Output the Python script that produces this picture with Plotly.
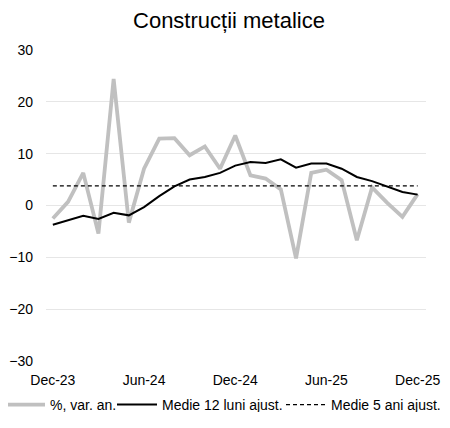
import plotly.graph_objects as go

months = ["Dec-23", "Jan-24", "Feb-24", "Mar-24", "Apr-24", "May-24", "Jun-24",
          "Jul-24", "Aug-24", "Sep-24", "Oct-24", "Nov-24", "Dec-24",
          "Jan-25", "Feb-25", "Mar-25", "Apr-25", "May-25", "Jun-25",
          "Jul-25", "Aug-25", "Sep-25", "Oct-25", "Nov-25", "Dec-25"]
var_an = [-2.5, 0.7, 6.3, -5.4, 24.4, -3.3, 7.1, 12.9, 13.0, 9.7, 11.4, 7.1, 13.5,
          5.8, 5.2, 3.1, -10.2, 6.3, 6.9, 4.9, -6.7, 3.5, 0.5, -2.2, 2.2]
medie_12 = [-3.7, -2.9, -2.0, -2.6, -1.4, -1.9, -0.3, 1.8, 3.7, 5.0, 5.5, 6.3, 7.7,
            8.4, 8.2, 8.9, 7.3, 8.1, 8.1, 7.1, 5.5, 4.7, 3.6, 2.6, 2.1]
medie_5_ani = 3.8
tick_labels = ["Dec-23", "Jun-24", "Dec-24", "Jun-25", "Dec-25"]
y_ticks = [-30, -20, -10, 0, 10, 20, 30]

idx = list(range(len(months)))
tick_idx = [months.index(t) for t in tick_labels]

fig = go.Figure()
fig.add_trace(go.Scatter(x=idx, y=var_an, mode="lines", name="%, var. an.",
                         legend="legend",
                         line=dict(color="#C0C0C0", width=3.8)))
fig.add_trace(go.Scatter(x=idx, y=medie_12, mode="lines", name="Medie 12 luni ajust.",
                         legend="legend2",
                         line=dict(color="#000000", width=2)))
fig.add_trace(go.Scatter(x=idx, y=[medie_5_ani] * len(idx), mode="lines",
                         name="Medie 5 ani ajust.", legend="legend3",
                         line=dict(color="#000000", width=1.3, dash="4px,3px")))

# page has an 8px body margin, so the figure is drawn at (8, 8)
W, H = 442, 404
L, R, T, B = 38, 24, 41.5, 51
plot_w = W - L - R
plot_h = H - T - B
font = "Liberation Sans, Arial, sans-serif"
leg_y = -(397 - (H - B)) / plot_h


def legend_at(px):
    return dict(orientation="h", x=(px - L) / plot_w, xref="paper", xanchor="left",
                y=leg_y, yref="paper", yanchor="middle",
                font=dict(family=font, size=14, color="#000000"),
                itemwidth=40, bgcolor="rgba(0,0,0,0)")


fig.update_layout(
    width=W, height=H,
    margin=dict(l=L, r=R, t=T, b=B, autoexpand=False),
    paper_bgcolor="white", plot_bgcolor="white",
    font=dict(family=font, size=14, color="#000000"),
    title=dict(text="Construcții metalice", x=0.5, xref="container", xanchor="center",
               y=1 - 12 / H, yref="container", yanchor="middle",
               font=dict(family=font, size=22, color="#000000")),
    showlegend=True,
    legend=legend_at(-8),
    legend2=legend_at(104),
    legend3=legend_at(273),
    xaxis=dict(range=[-0.45, 24.55], tickmode="array", tickvals=tick_idx,
               ticktext=tick_labels, showgrid=False, zeroline=False,
               showline=False, ticks="", ticklabelstandoff=9, automargin=False),
    yaxis=dict(range=[-30, 30], tickmode="array", tickvals=y_ticks,
               showgrid=True, gridcolor="#E6E6E6", gridwidth=1, zeroline=False,
               showline=False, ticks="", ticklabelstandoff=12, automargin=False),
)
fig.write_html("out.html")
